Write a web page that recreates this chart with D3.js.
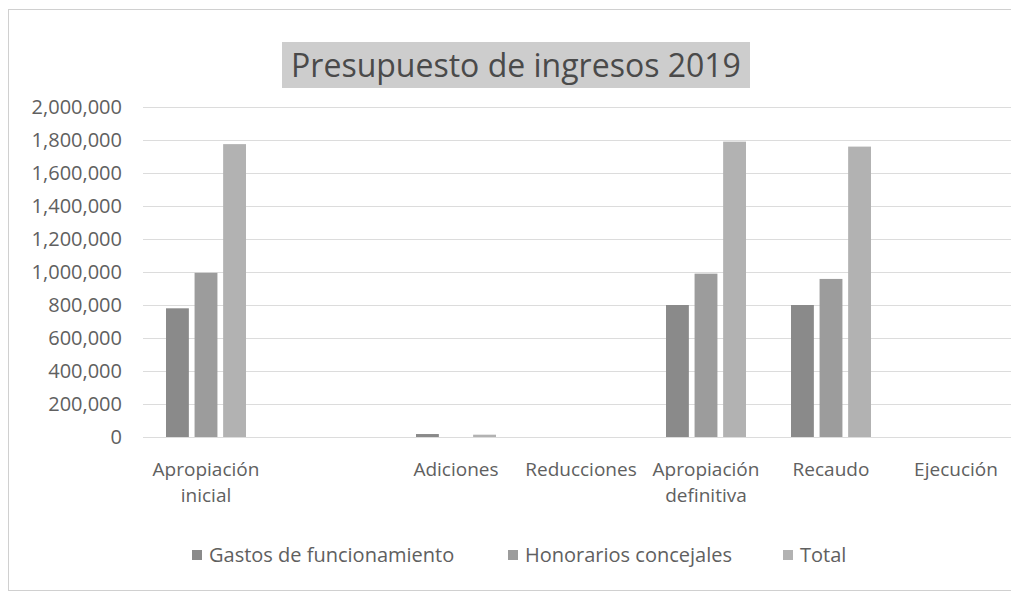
<!DOCTYPE html>
<html>
<head>
<meta charset="utf-8">
<script src="https://cdn.jsdelivr.net/npm/d3@7"></script>
<style>
  body { margin: 0; background: #fff; }
  svg { display: block; font-family: 'Open Sans', sans-serif; }
</style>
</head>
<body>
<script>
'use strict'

const width = 1011
const height = 592

// data
const categories = ['Apropiación inicial', '', 'Adiciones', 'Reducciones', 'Apropiación definitiva', 'Recaudo', 'Ejecución']
const series = ['Gastos de funcionamiento', 'Honorarios concejales', 'Total']
const gastos = [780000, 0, 18000, 0, 800000, 800000, 0]
const honorarios = [995000, 0, 0, 0, 990000, 958000, 0]
const total = [1775000, 0, 14000, 0, 1790000, 1760000, 0]
const yTicks = [0, 200000, 400000, 600000, 800000, 1000000, 1200000, 1400000, 1600000, 1800000, 2000000]
const colors = ['#8a8a8a', '#9c9c9c', '#b2b2b2']

const values = [gastos, honorarios, total]
const rows = categories.map((c, i) => ({ cat: c, key: i, vals: series.map((s, j) => ({ s, v: values[j][i] })) }))

const svg = d3.select('body').append('svg').attr('width', width).attr('height', height)

// chart border
svg.append('rect')
    .attr('x', 8.5).attr('y', 9.5)
    .attr('width', 1030).attr('height', 581)
    .attr('fill', 'none').attr('stroke', '#d0d0d0')

const x0 = d3.scaleBand().domain(d3.range(categories.length)).range([143.5, 1018.5])
const x1 = d3.scaleBand().domain(series).range([-40, 40]).paddingInner(0.2)
const y = d3.scaleLinear().domain([0, 2000000]).range([437, 107])

// gridlines
svg.append('g')
    .selectAll('line')
    .data(yTicks)
    .join('line')
    .attr('x1', 143).attr('x2', width)
    .attr('y1', d => Math.round(y(d)) + 0.5).attr('y2', d => Math.round(y(d)) + 0.5)
    .attr('stroke', '#dcdcdc')

// y axis labels
svg.append('g')
    .selectAll('text')
    .data(yTicks)
    .join('text')
    .attr('x', 122).attr('y', d => y(d))
    .attr('dy', '0.35em')
    .attr('text-anchor', 'end')
    .attr('font-size', 20)
    .attr('fill', '#606060')
    .text(d => d3.format(',')(d))

// bars
svg.append('g')
    .selectAll('g')
    .data(rows)
    .join('g')
    .attr('transform', d => `translate(${x0(d.key) + x0.bandwidth() / 2},0)`)
    .selectAll('rect')
    .data(d => d.vals)
    .join('rect')
    .attr('x', d => x1(d.s))
    .attr('width', x1.bandwidth())
    .attr('y', d => y(d.v))
    .attr('height', d => y(0) - y(d.v))
    .attr('fill', (d, i) => colors[i])

// category labels, wrapped inside the band
const xl = svg.append('g')
    .selectAll('text')
    .data(rows)
    .join('text')
    .attr('y', 476)
    .attr('text-anchor', 'middle')
    .attr('font-size', 19)
    .attr('fill', '#606060')

xl.each(function(d) {
    const t = d3.select(this)
    const cx = x0(d.key) + x0.bandwidth() / 2
    t.text(d.cat)
    if (this.getComputedTextLength() > x0.bandwidth() && d.cat.includes(' ')) {
        t.text(null)
        d.cat.split(' ').forEach((w, i) => {
            t.append('tspan').attr('x', cx).attr('dy', i ? 26 : 0).text(w)
        })
    } else {
        t.attr('x', cx)
    }
})

// title
const title = svg.append('g')
title.append('rect')
    .attr('x', 282).attr('y', 42)
    .attr('width', 468).attr('height', 46)
    .attr('fill', '#cdcdcd')
title.append('text')
    .attr('x', 516).attr('y', 77)
    .attr('text-anchor', 'middle')
    .attr('font-size', 32)
    .attr('fill', '#4a4a4a')
    .text('Presupuesto de ingresos 2019')

// legend
const legendX = [192, 508, 783]
const legend = svg.append('g')
    .selectAll('g')
    .data(series)
    .join('g')
    .attr('transform', (d, i) => `translate(${legendX[i]},555)`)
legend.append('rect')
    .attr('x', 0).attr('y', -5)
    .attr('width', 10).attr('height', 10)
    .attr('fill', (d, i) => colors[i])
legend.append('text')
    .attr('x', 17).attr('dy', '0.35em')
    .attr('font-size', 20)
    .attr('fill', '#606060')
    .text(d => d)
</script>
</body>
</html>
